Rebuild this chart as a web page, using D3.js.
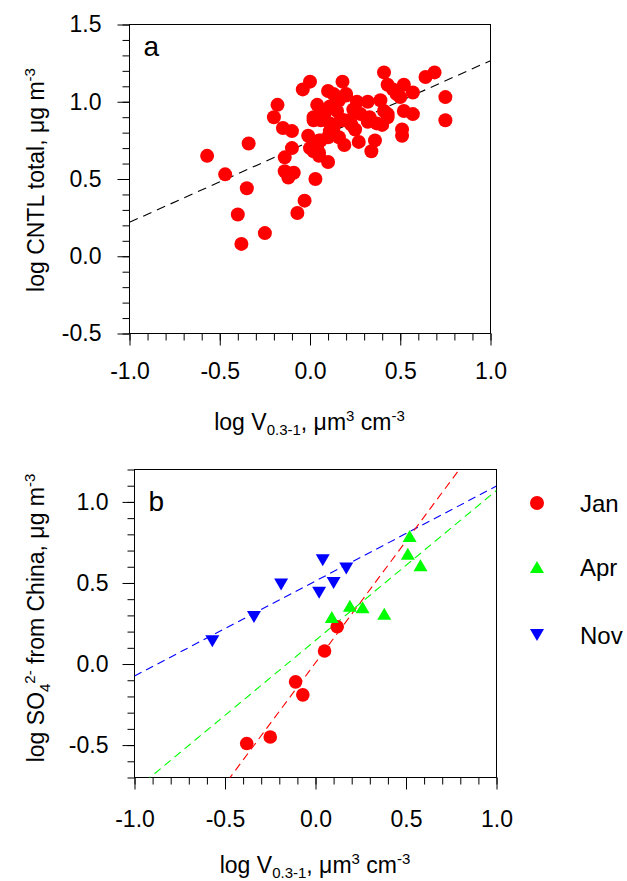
<!DOCTYPE html>
<html lang="en">
<head>
<meta charset="UTF-8">
<script src="https://d3js.org/d3.v7.min.js"></script>
<style>
  body { margin: 0; background: #fff; }
  svg text { font-family: "Liberation Sans", Arial, sans-serif; fill: #000; }
</style>
</head>
<body>
<div id="chart_area"></div>
<script>
// ---- panel a: log CNTL total vs log V(0.3-1)
var cntlLogV = [-0.57,-0.47,-0.34,-0.35,-0.40,-0.38,-0.25,-0.18,-0.20,-0.15,-0.10,-0.10,-0.14,-0.14,-0.12,-0.09,
  0.03,-0.03,-0.07,-0.04,0.00,0.10,0.18,0.20,0.04,0.02,-0.01,0.00,0.05,0.05,0.10,0.10,0.13,0.08,0.15,0.18,0.19,
  0.25,0.26,0.32,0.28,0.27,0.34,0.36,0.33,0.37,0.39,0.41,0.43,0.41,0.43,0.46,0.52,0.50,0.57,0.52,0.57,0.51,0.51,
  0.64,0.69,0.75,0.75,0.13,0.16,0.11,0.06,0.11,0.22,0.24,0.04,0.16,0.20,0.15,0.07,0.17,0.11,0.23,0.32,0.43,0.40,
  0.48,0.02,0.05,0.02,0.06,0.19];
var cntlLogC = [0.65,0.53,0.73,0.44,0.27,0.08,0.15,0.98,0.90,0.83,0.81,0.70,0.64,0.55,0.51,0.54,
  0.50,0.36,0.28,1.08,1.13,1.07,1.13,1.04,0.98,0.88,0.78,0.70,0.67,0.75,0.61,0.77,0.83,0.92,0.94,0.88,0.72,
  0.82,1.00,1.00,0.92,0.74,0.68,0.75,0.90,0.86,1.01,0.94,0.90,1.19,1.11,1.08,1.11,1.03,1.06,0.94,0.92,0.82,0.78,
  1.16,1.19,1.03,0.88,1.05,1.01,0.97,0.88,0.86,0.88,0.95,0.71,0.77,1.05,1.03,0.91,0.88,0.81,0.85,0.87,0.92,0.85,
  1.05,0.68,0.65,0.90,0.75,0.88];
var fitA = [0.743, 0.523];   // intercept, slope

// ---- panel b: log SO4 from China vs log V(0.3-1)
var janV = [-0.38,-0.25,-0.11,-0.07,0.05,0.12];
var janS = [-0.49,-0.45,-0.11,-0.19,0.08,0.23];
var aprV = [0.09,0.19,0.26,0.38,0.52,0.51,0.58];
var aprS = [0.29,0.36,0.35,0.31,0.79,0.68,0.61];
var novV = [-0.57,-0.34,-0.19,0.04,0.02,0.10,0.17];
var novS = [0.14,0.29,0.49,0.64,0.44,0.50,0.59];
var janFit = [0.008, 1.50];
var aprFit = [0.146, 0.925];
var novFit = [0.512, 0.586];

var months = ["Jan", "Apr", "Nov"];
var monthColors = ["#ff0000", "#00ff00", "#0000ff"];

var xTicks = [-1.0, -0.5, 0.0, 0.5, 1.0];
var yTicksA = [-0.5, 0.0, 0.5, 1.0, 1.5];
var yTicksB = [-0.5, 0.0, 0.5, 1.0];

var svg = d3.select("#chart_area").append("svg")
  .attr("width", 627).attr("height", 881);

var upTri = "M0,-6L7,6L-7,6Z";
var downTri = "M0,6L7,-6L-7,-6Z";

function minorRange(lo, hi) {
  return d3.range(Math.round(lo * 10), Math.round(hi * 10) + 1).map(function(d) { return d / 10; });
}

// plain hyphen for negatives, like the original
function fmt(d) { return d.toFixed(1); }

function makePanel(cfg) {
  var g = svg.append("g").attr("transform", "translate(" + (cfg.left + 0.5) + "," + (cfg.top + 0.5) + ")");
  var x = d3.scaleLinear().domain(cfg.xDomain).range([0, cfg.width]);
  var y = d3.scaleLinear().domain(cfg.yDomain).range([cfg.height, 0]);

  // minor ticks
  g.append("g").attr("transform", "translate(0," + cfg.height + ")")
    .call(d3.axisBottom(x).tickValues(minorRange(cfg.xDomain[0], cfg.xDomain[1])).tickSize(7).tickSizeOuter(0).tickFormat(""))
    .call(function(s) { s.select(".domain").remove(); });
  g.append("g")
    .call(d3.axisLeft(y).tickValues(minorRange(cfg.yDomain[0], cfg.yDomain[1])).tickSize(7).tickSizeOuter(0).tickFormat(""))
    .call(function(s) { s.select(".domain").remove(); });

  // major ticks with labels
  var xa = g.append("g").attr("transform", "translate(0," + cfg.height + ")")
    .call(d3.axisBottom(x).tickValues(xTicks).tickSize(12).tickSizeOuter(0).tickPadding(cfg.xPad).tickFormat(fmt));
  var ya = g.append("g")
    .call(d3.axisLeft(y).tickValues(cfg.yTicks).tickSize(12).tickSizeOuter(0).tickPadding(cfg.yPad).tickFormat(fmt));
  [xa, ya].forEach(function(a) {
    a.select(".domain").remove();
    a.selectAll("text").style("font-size", "23px").attr("fill", "#000");
  });
  g.selectAll(".tick line").attr("stroke", "#000");

  // frame
  g.append("rect").attr("width", cfg.width).attr("height", cfg.height)
    .attr("fill", "none").attr("stroke", "#000").attr("stroke-width", 1);

  var clipId = "clip" + cfg.name;
  g.append("clipPath").attr("id", clipId).append("rect")
    .attr("width", cfg.width).attr("height", cfg.height);

  // panel letter
  g.append("text").attr("x", cfg.letterX).attr("y", cfg.letterY)
    .style("font-size", "28px").text(cfg.name);

  return { g: g, x: x, y: y, clip: "url(#" + clipId + ")" };
}

function fitLine(p, fit, color, dash) {
  var xd = p.x.domain();
  p.g.append("line")
    .attr("clip-path", p.clip)
    .attr("x1", p.x(xd[0])).attr("y1", p.y(fit[0] + fit[1] * xd[0]))
    .attr("x2", p.x(xd[1])).attr("y2", p.y(fit[0] + fit[1] * xd[1]))
    .attr("stroke", color).attr("stroke-width", 1.1)
    .attr("stroke-dasharray", dash);
}

function xTitle(cx, baseline) {
  var t = svg.append("text").attr("x", cx).attr("y", baseline)
    .attr("text-anchor", "middle").style("font-size", "23px");
  t.append("tspan").text("log V");
  t.append("tspan").attr("dy", 5).style("font-size", "15px").text("0.3-1");
  t.append("tspan").attr("dy", -5).text(", \u03bcm");
  t.append("tspan").attr("dy", -9).style("font-size", "15px").text("3");
  t.append("tspan").attr("dy", 9).text(" cm");
  t.append("tspan").attr("dy", -9).style("font-size", "15px").text("-3");
}

// ---------- panel a
var pa = makePanel({ name: "a", left: 129, top: 24, width: 361, height: 309,
  xDomain: [-1, 1], yDomain: [-0.5, 1.5], yTicks: yTicksA, xPad: 17, yPad: 16,
  letterX: 14, letterY: 31 });

fitLine(pa, fitA, "#000", "9,6");

pa.g.append("g").selectAll("circle")
  .data(cntlLogV.map(function(v, i) { return [v, cntlLogC[i]]; }))
  .enter().append("circle")
    .attr("cx", function(d) { return pa.x(d[0]); })
    .attr("cy", function(d) { return pa.y(d[1]); })
    .attr("r", 7)
    .attr("fill", "#ff0000");

xTitle(309.5, 430);

var ta = svg.append("text").attr("transform", "rotate(-90)")
  .attr("x", -180).attr("y", 44).attr("text-anchor", "middle").style("font-size", "23px");
ta.append("tspan").text("log CNTL total, \u03bcg m");
ta.append("tspan").attr("dy", -9).style("font-size", "15px").text("-3");

// ---------- panel b
var pb = makePanel({ name: "b", left: 134, top: 469, width: 362, height: 308,
  xDomain: [-1, 1], yDomain: [-0.7, 1.2], yTicks: yTicksB, xPad: 21, yPad: 14,
  letterX: 14, letterY: 41 });

fitLine(pb, novFit, monthColors[2], "8,5");
fitLine(pb, aprFit, monthColors[1], "8,5");
fitLine(pb, janFit, monthColors[0], "8,5");

pb.g.append("g").selectAll("circle")
  .data(janV.map(function(v, i) { return [v, janS[i]]; }))
  .enter().append("circle")
    .attr("cx", function(d) { return pb.x(d[0]); })
    .attr("cy", function(d) { return pb.y(d[1]); })
    .attr("r", 6.8).attr("fill", monthColors[0]);

pb.g.append("g").selectAll("path")
  .data(aprV.map(function(v, i) { return [v, aprS[i]]; }))
  .enter().append("path")
    .attr("d", upTri)
    .attr("transform", function(d) { return "translate(" + pb.x(d[0]) + "," + pb.y(d[1]) + ")"; })
    .attr("fill", monthColors[1]);

pb.g.append("g").selectAll("path")
  .data(novV.map(function(v, i) { return [v, novS[i]]; }))
  .enter().append("path")
    .attr("d", downTri)
    .attr("transform", function(d) { return "translate(" + pb.x(d[0]) + "," + pb.y(d[1]) + ")"; })
    .attr("fill", monthColors[2]);

xTitle(315, 873);

var tb = svg.append("text").attr("transform", "rotate(-90)")
  .attr("x", -618).attr("y", 44).attr("text-anchor", "middle").style("font-size", "23px");
tb.append("tspan").text("log SO");
tb.append("tspan").attr("dy", 6).style("font-size", "15px").text("4");
tb.append("tspan").attr("dy", -15).style("font-size", "15px").text("2-");
tb.append("tspan").attr("dy", 9).text(" from China, \u03bcg m");
tb.append("tspan").attr("dy", -9).style("font-size", "15px").text("-3");

// legend
var legendY = [503, 567, 635];
var leg = svg.append("g").selectAll("g").data(months).enter().append("g")
  .attr("transform", function(d, i) { return "translate(537," + legendY[i] + ")"; });
leg.each(function(d, i) {
  var s = d3.select(this);
  if (i === 0) s.append("circle").attr("r", 7).attr("fill", monthColors[i]);
  else s.append("path").attr("d", i === 1 ? upTri : downTri).attr("fill", monthColors[i]);
  s.append("text").attr("x", 43).attr("y", 9).style("font-size", "24px").text(d);
});
</script>
</body>
</html>
